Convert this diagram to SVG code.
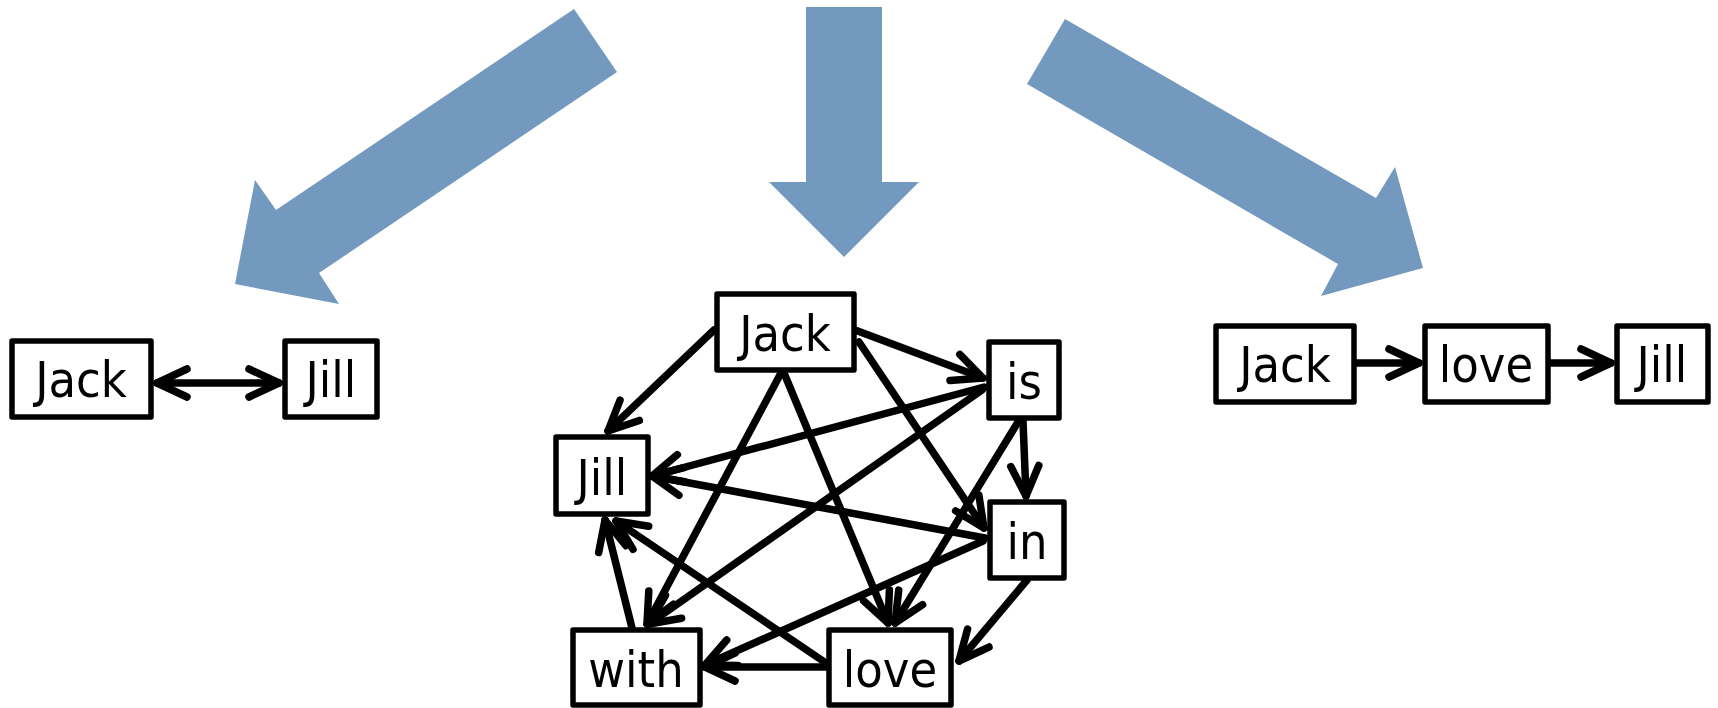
<svg xmlns="http://www.w3.org/2000/svg" width="1718" height="708" viewBox="0 0 1718 708">
<style>
.box{fill:#fff;stroke:#000;stroke-width:5.5;stroke-linejoin:round}
.lbl{font-family:'DejaVu Sans Condensed','DejaVu Sans',sans-serif;font-stretch:condensed;font-size:50px;fill:#000;text-anchor:middle}
.edge{fill:none;stroke:#000;stroke-width:7.5;stroke-linecap:round;marker-end:url(#ah)}
.big{fill:#7399BF}
</style>
<defs>
<marker id="ah" markerUnits="userSpaceOnUse" markerWidth="40" markerHeight="40" refX="0" refY="0" orient="auto" overflow="visible">
<path d="M-30,-14 L0,0 L-30,14" fill="none" stroke="#000" stroke-width="7.5" stroke-linecap="round" stroke-linejoin="round"/>
</marker>
<marker id="ahs" markerUnits="userSpaceOnUse" markerWidth="40" markerHeight="40" refX="0" refY="0" orient="auto-start-reverse" overflow="visible">
<path d="M-30,-14 L0,0 L-30,14" fill="none" stroke="#000" stroke-width="7.5" stroke-linecap="round" stroke-linejoin="round"/>
</marker>
</defs>
<g id="bigarrows">
<polygon class="big" points="574,9 617,72 319,273 339,304 235,284 255,180 276,210"/>
<polygon class="big" points="806,7 882,7 882,182 919,182 844,257 769,182 806,182"/>
<polygon class="big" points="1065,19 1376,198 1395,167 1423,268 1321,296 1338,264 1027,84"/>
</g>
<g id="connectors">
<path d="M157,383 L279,383" fill="none" stroke="#000" stroke-width="7.5" stroke-linecap="round" marker-start="url(#ahs)" marker-end="url(#ahs)"/>
<path class="edge" d="M1355,363 L1419,363"/>
<path class="edge" d="M1549,363 L1611,363"/>
<path class="edge" d="M714,330 L608,431"/>
<path class="edge" d="M855,330 L983,378"/>
<path class="edge" d="M859,342 L984,528"/>
<path class="edge" d="M781,373 L647,624"/>
<path class="edge" d="M784,373 L888,623"/>
<path class="edge" d="M984,387 L652,476"/>
<path class="edge" d="M982,390 L649,624"/>
<path class="edge" d="M1023,421 L1026,496"/>
<path class="edge" d="M1018,422 L895,623"/>
<path class="edge" d="M985,538 L652,476"/>
<path class="edge" d="M983,541 L705,665"/>
<path class="edge" d="M1027,580 L959,661"/>
<path class="edge" d="M826,663 L616,521"/>
<path class="edge" d="M826,667 L705,667"/>
<path class="edge" d="M632,628 L605,520"/>
</g>
<g id="l-jack"><rect class="box" x="12" y="341" width="139" height="76"/><text class="lbl" x="81" y="397">Jack</text></g>
<g id="l-jill"><rect class="box" x="285" y="341" width="92" height="76"/><text class="lbl" x="331" y="397">Jill</text></g>
<g id="m-jack"><rect class="box" x="717" y="294" width="137" height="76"/><text class="lbl" x="785" y="351">Jack</text></g>
<g id="m-is"><rect class="box" x="989" y="342" width="70" height="76"/><text class="lbl" x="1024" y="399">is</text></g>
<g id="m-jill"><rect class="box" x="556" y="437" width="92" height="77"/><text class="lbl" x="602" y="495">Jill</text></g>
<g id="m-in"><rect class="box" x="990" y="502" width="74" height="76"/><text class="lbl" x="1027" y="559">in</text></g>
<g id="m-with"><rect class="box" x="573" y="630" width="127" height="75"/><text class="lbl" x="636" y="687">with</text></g>
<g id="m-love"><rect class="box" x="829" y="630" width="122" height="75"/><text class="lbl" x="890" y="687">love</text></g>
<g id="r-jack"><rect class="box" x="1216" y="326" width="138" height="76"/><text class="lbl" x="1285" y="382">Jack</text></g>
<g id="r-love"><rect class="box" x="1425" y="326" width="123" height="76"/><text class="lbl" x="1486" y="382">love</text></g>
<g id="r-jill"><rect class="box" x="1617" y="326" width="91" height="76"/><text class="lbl" x="1662" y="382">Jill</text></g>
</svg>
